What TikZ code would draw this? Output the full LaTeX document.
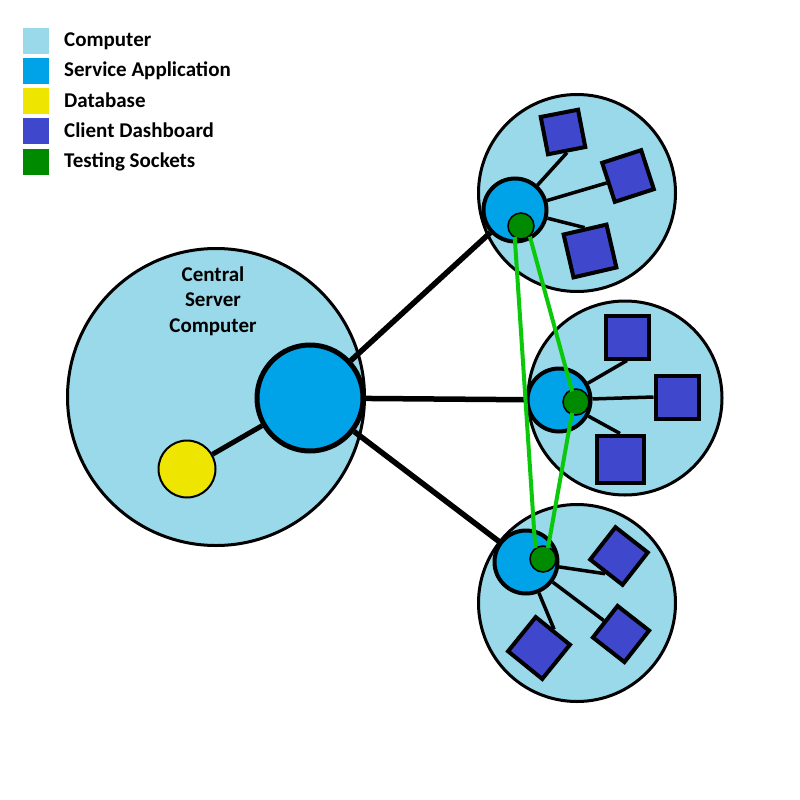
\documentclass[tikz,border=0pt]{standalone}
\usepackage{fontspec}
\setmainfont{Carlito}
\definecolor{compc}{RGB}{153,217,234}
\definecolor{servc}{RGB}{0,162,232}
\definecolor{dbc}{RGB}{238,230,0}
\definecolor{dashc}{RGB}{63,72,204}
\definecolor{sockc}{RGB}{0,138,0}
\definecolor{linec}{RGB}{10,200,10}
\begin{document}
\begin{tikzpicture}[x=1pt,y=-1pt,inner sep=0pt,
  txt/.style={font=\fontsize{21}{25.5}\selectfont\bfseries},
  key/.style={fill=#1,minimum size=26pt},
  comp/.style={circle,draw,line width=3pt,fill=compc,minimum size=#1},
  app/.style={circle,draw,line width=4pt,fill=servc,minimum size=#1},
  sock/.style={circle,draw,line width=1.5pt,fill=sockc,minimum size=26pt},
  sq/.style={draw,line width=4pt,fill=dashc,minimum size=#1},
  link/.style={line width=5.5pt},
  arm/.style={line width=3.5pt},
  test/.style={linec,line width=4pt,shorten <=11pt,shorten >=11pt}]
\fill[white] (0,0) rectangle (800,800);
\useasboundingbox (0,0) rectangle (800,800);

% legend
\node[key=compc] (l1) at (36,41) {};
\node[key=servc] (l2) at (36,71) {};
\node[key=dbc] (l3) at (36,101) {};
\node[key=dashc] (l4) at (36,131) {};
\node[key=sockc] (l5) at (36,162) {};
\node[txt,anchor=base west] (t1) at (64,47) {Computer};
\node[txt,anchor=base west] (t2) at (64,77) {Service Application};
\node[txt,anchor=base west] (t3) at (64,107) {Database};
\node[txt,anchor=base west] (t4) at (64,137) {Client Dashboard};
\node[txt,anchor=base west] (t5) at (64,167) {Testing Sockets};

% computers
\node[comp=297pt] (c0) at (216,397) {};
\node[comp=197pt] (c1) at (577,193) {};
\node[comp=194pt] (c2) at (625,398) {};
\node[comp=197pt] (c3) at (577,603) {};
\node[txt,align=center] (ct) at (213,301) {Central\\Server\\Computer};

% central server
\node[app=106pt,line width=5pt] (a0) at (310,398) {};
\node[circle,draw,line width=2pt,fill=dbc,minimum size=57pt] (db) at (187,469) {};
\draw[link,line width=5pt] (db) -- (a0);

% service applications
\node[app=63pt] (a1) at (515,210) {};
\node[app=63pt] (a2) at (559,400) {};
\node[app=63pt] (a3) at (526,562) {};
\draw[link] (a0) -- (a1);
\draw[link] (a0) -- (a2);
\draw[link] (a0) -- (a3);

% client dashboards
\node[sq=38pt,rotate=11] (q11) at (563,132) {};
\node[sq=41pt,rotate=18] (q12) at (628,176) {};
\node[sq=44pt,rotate=13] (q13) at (590,251) {};
\node[sq=43pt] (q21) at (627,337) {};
\node[sq=43pt] (q22) at (677,397) {};
\node[sq=47pt] (q23) at (620,459) {};
\node[sq=41pt,rotate=-38] (q31) at (619,556) {};
\node[sq=40pt,rotate=-38] (q32) at (621,634) {};
\node[sq=44pt,rotate=-39] (q33) at (539,648) {};
\draw[arm] (a1) -- (q11.south);
\draw[arm] (a1) -- (q12.west);
\draw[arm] (a1) -- (q13.north);
\draw[arm] (a2) -- (q21.south);
\draw[arm] (a2) -- (q22.west);
\draw[arm] (a2) -- (q23.north);
\draw[arm] (a3) -- (q31.south);
\draw[arm] (a3) -- (q32.west);
\draw[arm] (a3) -- (q33.north);

% testing sockets
\node[sock] (s1) at (521,226) {};
\node[sock] (s2) at (576,402) {};
\node[sock] (s3) at (543,559) {};
\draw[test] ([xshift=-7pt]s1.center) -- ([xshift=-7pt]s3.center);
\draw[test] ([xshift=6pt]s1.center) -- ([xshift=-1pt]s2.center);
\draw[test] ([xshift=-2pt]s2.center) -- ([xshift=3pt]s3.center);
\end{tikzpicture}
\end{document}
